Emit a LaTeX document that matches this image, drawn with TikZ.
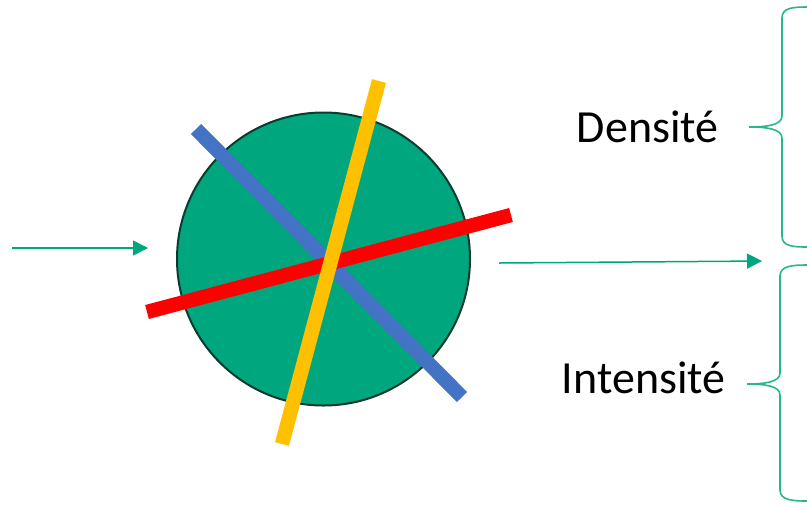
\documentclass[tikz,border=0pt]{standalone}
\usepackage{fontspec}
\setmainfont{Carlito}
\usetikzlibrary{arrows.meta}
\definecolor{discgreen}{RGB}{0,166,126}
\definecolor{discedge}{RGB}{12,58,44}
\definecolor{bracegreen}{RGB}{40,182,140}
\definecolor{barblue}{RGB}{68,114,196}
\definecolor{barred}{RGB}{255,0,0}
\definecolor{baryellow}{RGB}{255,192,0}

% curly brace opening to the right: spine x, tip x, top y, tip y, bottom y
\newcommand{\sidebrace}[5]{%
  \draw[brace] (807,#3) .. controls (792,#3) and (#1,#3+1) .. (#1,#3+11)
    -- (#1,#4-11) .. controls (#1,#4-2) and (#2+18,#4) .. (#2,#4)
    .. controls (#2+18,#4) and (#1,#4+2) .. (#1,#4+11)
    -- (#1,#5-11) .. controls (#1,#5-1) and (792,#5) .. (807,#5);}

\begin{document}
\begin{tikzpicture}[
  x=0.5pt, y=-0.5pt,
  disc/.style={circle, draw=discedge, line width=1pt, fill=discgreen, minimum size=146.5pt, inner sep=0pt},
  bar/.style={line width=7.2pt},
  arr/.style={-{Triangle[length=7.5pt, width=7.5pt]}, draw=discgreen, fill=discgreen, line width=0.75pt},
  brace/.style={draw=bracegreen, line width=0.8pt},
  lbl/.style={font=\fontsize{23}{28}\selectfont, anchor=base east, inner sep=0pt}
]
\useasboundingbox (0,0) rectangle (807,505);

\node[disc] (disc) at (323.5,259) {};

% the three crossing bars
\draw[bar, draw=barblue]   (196,129) -- (462,397);
\draw[bar, draw=barred]    (147,312) -- (511,215);
\draw[bar, draw=baryellow] (379,81) -- (282,444);

\coordinate (feed)    at (12,248);
\coordinate (feedend) at (148,248);
\coordinate (out)     at (499,263);
\coordinate (outend)  at (762,261);

\draw[arr] (feed) -- (feedend);
\draw[arr] (out) -- (outend);

\node[lbl] (dens)   at (719,142) {Densité};
\node[lbl] (intens) at (726,393) {Intensité};

\sidebrace{782}{749}{7}{127}{247}
\sidebrace{780}{747}{265}{384}{501}
\end{tikzpicture}
\end{document}
